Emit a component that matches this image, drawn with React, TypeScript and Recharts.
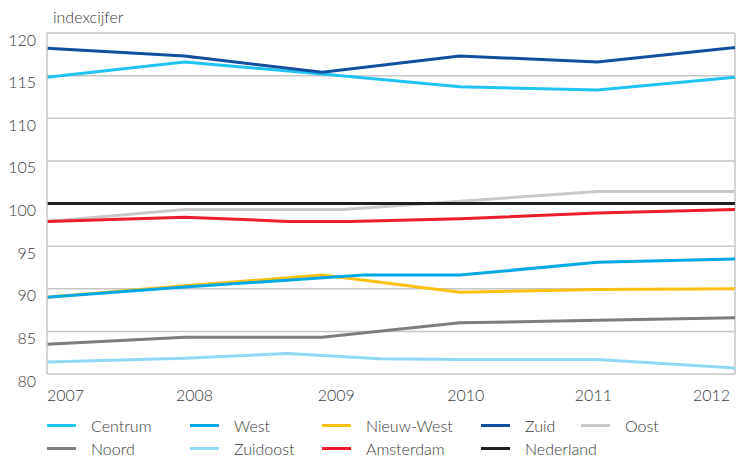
import { LineChart, Line, XAxis, YAxis, CartesianGrid, ReferenceLine, Legend } from "recharts";

const yTicks = [80, 85, 90, 95, 100, 105, 110, 115, 120];
const xTicks = [2007, 2008, 2009, 2010, 2011, 2012];
const xTickShift = [0, 10, 14, 6, -4, 4];

const annualYears = [2007, 2008, 2009, 2010, 2011, 2012];

const centrumValues = [114.8, 116.6, 115.2, 113.7, 113.3, 114.8];
const westYears = [2007, 2008, 2009.3, 2010, 2011, 2012];
const westValues = [89.0, 90.2, 91.6, 91.6, 93.1, 93.5];
const nieuwWestValues = [89.0, 90.35, 91.6, 89.6, 89.9, 90.0];
const zuidValues = [118.2, 117.3, 115.4, 117.3, 116.6, 118.3];
const oostYears = [2007, 2008, 2009.15, 2011, 2012];
const oostValues = [97.9, 99.3, 99.3, 101.4, 101.4];
const noordValues = [83.5, 84.3, 84.3, 86.0, 86.3, 86.6];
const zuidoostYears = [2007, 2008, 2008.75, 2009.42, 2010, 2011, 2012];
const zuidoostValues = [81.4, 81.85, 82.4, 81.8, 81.7, 81.7, 80.7];
const amsterdamYears = [2007, 2008, 2008.75, 2009.2, 2010, 2011, 2012];
const amsterdamValues = [97.9, 98.4, 97.9, 97.9, 98.2, 98.9, 99.3];
const nederlandValues = [100, 100, 100, 100, 100, 100];

const toPoints = (xs: number[], ys: number[]) => xs.map((x, i) => ({ x, y: ys[i] }));

// draw order (bottom first)
const series = [
  { name: "Oost", color: "#c9c9c9", data: toPoints(oostYears, oostValues) },
  { name: "Nederland", color: "#231f20", data: toPoints(annualYears, nederlandValues) },
  { name: "Amsterdam", color: "#ec1c2a", data: toPoints(amsterdamYears, amsterdamValues) },
  { name: "Zuidoost", color: "#92d8f6", data: toPoints(zuidoostYears, zuidoostValues) },
  { name: "Noord", color: "#7d7d80", data: toPoints(annualYears, noordValues) },
  { name: "Nieuw-West", color: "#fdc010", data: toPoints(annualYears, nieuwWestValues) },
  { name: "West", color: "#00a9e6", data: toPoints(westYears, westValues) },
  { name: "Centrum", color: "#1dc4f4", data: toPoints(annualYears, centrumValues) },
  { name: "Zuid", color: "#124f9e", data: toPoints(annualYears, zuidValues) },
];

const legendRows = [
  ["Centrum", "West", "Nieuw-West", "Zuid", "Oost"],
  ["Noord", "Zuidoost", "Amsterdam", "Nederland"],
];
const legendCols = [47, 190, 322, 481, 581];

const FONT = "Lato, 'Open Sans', sans-serif";
const TEXT = "#3a3a3a";

function YTick({ x, y, payload }: any) {
  return (
    <text x={x - 3} y={y + 6} textAnchor="end" dominantBaseline="central" fontSize={16} fontWeight={300} fill={TEXT} fontFamily={FONT}>
      {payload.value}
    </text>
  );
}

function XTick({ x, y, payload, index }: any) {
  const anchor = index === 0 ? "start" : index === xTicks.length - 1 ? "end" : "middle";
  return (
    <text x={x + xTickShift[index]} y={y + 12} textAnchor={anchor} dominantBaseline="central" fontSize={16} fontWeight={300} fill={TEXT} fontFamily={FONT}>
      {payload.value}
    </text>
  );
}

function LegendBox() {
  const colorOf = (n: string) => series.find((s) => s.name === n)?.color;
  return (
    <div style={{ position: "relative", width: 742, height: 44, fontFamily: FONT, fontSize: 16, fontWeight: 300, color: TEXT }}>
      {legendRows.map((row, r) =>
        row.map((name, c) => (
          <div
            key={name}
            style={{ position: "absolute", left: legendCols[c], top: r * 23, height: 23, display: "flex", alignItems: "center" }}
          >
            <span style={{ display: "inline-block", width: 29, height: 3, background: colorOf(name), marginRight: 15 }} />
            <span style={{ whiteSpace: "nowrap" }}>{name}</span>
          </div>
        ))
      )}
    </div>
  );
}

export default function App() {
  return (
    <div style={{ position: "absolute", left: 0, top: 0, width: 742, height: 458, background: "#fff" }}>
      <div style={{ position: "absolute", left: 53, top: 7, fontFamily: FONT, fontSize: 16, fontWeight: 300, color: TEXT, lineHeight: "20px" }}>
        indexcijfer
      </div>
      <LineChart width={742} height={458} margin={{ top: 33, right: 7, left: 0, bottom: 0 }}>
        <CartesianGrid vertical={false} stroke="#c6c6c6" strokeWidth={1.5} />
        <XAxis
          dataKey="x"
          type="number"
          domain={[2007, 2012]}
          ticks={xTicks}
          axisLine={false}
          tickLine={false}
          height={40}
          tick={<XTick />}
          allowDuplicatedCategory={false}
        />
        <YAxis
          type="number"
          domain={[80, 120]}
          ticks={yTicks}
          width={47}
          axisLine={{ stroke: "#c6c6c6", strokeWidth: 1.5 }}
          tickLine={false}
          tick={<YTick />}
        />
        <ReferenceLine x={2012} stroke="#c6c6c6" strokeWidth={1.5} />
        <Legend verticalAlign="bottom" height={44} wrapperStyle={{ left: 0, bottom: 0, width: 742 }} content={() => <LegendBox />} />
        {series.map((s) => (
          <Line
            key={s.name}
            data={s.data}
            dataKey="y"
            name={s.name}
            type="linear"
            stroke={s.color}
            strokeWidth={3}
            dot={false}
            isAnimationActive={false}
          />
        ))}
      </LineChart>
    </div>
  );
}
